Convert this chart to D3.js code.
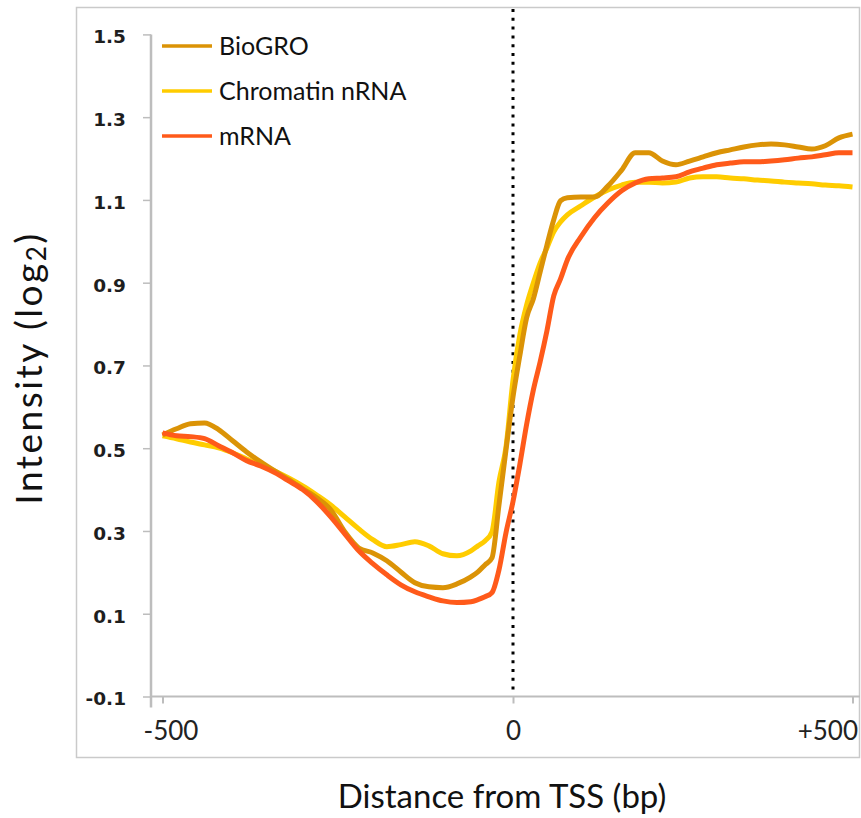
<!DOCTYPE html>
<html>
<head>
<meta charset="utf-8">
<script src="https://cdn.jsdelivr.net/npm/d3@7"></script>
<style>
  body { margin: 0; background: #fff; }
  svg { display: block; }
</style>
</head>
<body>
<svg id="chart" width="861" height="818"></svg>
<script>
// Distance from the TSS (bp) at which each profile is sampled
const positions = [
  -500, -480, -460, -440, -420, -400, -380, -360, -340, -320,
  -300, -280, -260, -240, -220, -200, -180, -160, -140, -120,
  -100, -80, -60, -50, -40, -30, -20, -10, 0, 10,
  20, 30, 40, 50, 60, 70, 80, 100, 120, 140,
  160, 180, 200, 220, 240, 260, 280, 300, 320, 340,
  360, 380, 400, 420, 440, 460, 480, 500
];

// Intensity (log2) per profile, aligned with positions
const bioGRO = [
  0.532, 0.547, 0.559, 0.561, 0.545, 0.518, 0.491, 0.467, 0.445, 0.424,
  0.402, 0.380, 0.351, 0.298, 0.259, 0.247, 0.228, 0.201, 0.175, 0.165,
  0.163, 0.172, 0.189, 0.201, 0.218, 0.235, 0.363, 0.496, 0.624, 0.723,
  0.815, 0.861, 0.926, 0.991, 1.052, 1.098, 1.105, 1.107, 1.107, 1.134,
  1.172, 1.214, 1.214, 1.194, 1.185, 1.194, 1.204, 1.214, 1.221, 1.228,
  1.233, 1.235, 1.233, 1.228, 1.223, 1.231, 1.250, 1.259
];

const chromatinNRNA = [
  0.530, 0.523, 0.515, 0.508, 0.501, 0.489, 0.474, 0.460, 0.445, 0.428,
  0.409, 0.387, 0.363, 0.334, 0.305, 0.279, 0.262, 0.267, 0.274, 0.264,
  0.245, 0.240, 0.252, 0.264, 0.276, 0.298, 0.419, 0.503, 0.665, 0.774,
  0.846, 0.900, 0.948, 0.984, 1.023, 1.047, 1.064, 1.086, 1.107, 1.124,
  1.136, 1.143, 1.143, 1.141, 1.143, 1.153, 1.156, 1.156, 1.153, 1.151,
  1.148, 1.146, 1.143, 1.141, 1.139, 1.136, 1.134, 1.131
];

const mRNA = [
  0.537, 0.530, 0.528, 0.523, 0.506, 0.489, 0.470, 0.457, 0.441, 0.421,
  0.400, 0.371, 0.334, 0.293, 0.252, 0.221, 0.194, 0.170, 0.153, 0.141,
  0.131, 0.127, 0.129, 0.134, 0.141, 0.151, 0.206, 0.296, 0.371, 0.460,
  0.557, 0.641, 0.709, 0.784, 0.868, 0.909, 0.955, 1.011, 1.057, 1.093,
  1.122, 1.141, 1.151, 1.153, 1.156, 1.168, 1.177, 1.185, 1.189, 1.192,
  1.192, 1.194, 1.197, 1.201, 1.204, 1.209, 1.214, 1.214
];

const seriesNames = ["BioGRO", "Chromatin nRNA", "mRNA"];
const seriesColors = ["#DB9306", "#FFCC00", "#FF5A1A"];

const yTicks = [-0.1, 0.1, 0.3, 0.5, 0.7, 0.9, 1.1, 1.3, 1.5];
const xTicks = [-500, 0, 500];
const xTickLabels = ["-500", "0", "+500"];

const svg = d3.select("#chart");
const sans = "Lato, 'Open Sans', sans-serif";
const axisGrey = "#bdbdbd";

// outer chart frame
svg.append("rect")
  .attr("x", 76.5).attr("y", 7.5)
  .attr("width", 783).attr("height", 750)
  .attr("fill", "#fff")
  .attr("stroke", "#cacaca").attr("stroke-width", 1.5);

const x = d3.scaleLinear().domain([-500, 0, 500]).range([162.5, 513, 852.5]);
const y = d3.scaleLinear().domain([-0.1, 1.5]).range([696.5, 34.4]);
const axisX = 151;

// y axis
const yAxis = svg.append("g")
  .attr("transform", `translate(${axisX},0)`)
  .call(d3.axisLeft(y).tickValues(yTicks).tickSize(8).tickSizeOuter(0)
    .tickPadding(17).tickFormat(d => d.toFixed(1)));
yAxis.select(".domain").remove();
yAxis.selectAll(".tick line").attr("stroke", axisGrey).attr("stroke-width", 1.5);
yAxis.selectAll(".tick text")
  .attr("font-family", "'DejaVu Sans', sans-serif")
  .attr("font-weight", "bold")
  .attr("font-size", 18.5)
  .attr("fill", "#1e1e1e")
  .attr("dy", "0.45em");
svg.append("line")
  .attr("x1", axisX).attr("x2", axisX)
  .attr("y1", y(1.5)).attr("y2", y(-0.1) + 11)
  .attr("stroke", axisGrey).attr("stroke-width", 2.5);

// x axis
const xAxis = svg.append("g")
  .attr("transform", `translate(0,${y(-0.1)})`)
  .call(d3.axisBottom(x).tickValues(xTicks).tickSize(7).tickSizeOuter(0)
    .tickFormat((d, i) => xTickLabels[i]));
xAxis.select(".domain").remove();
xAxis.selectAll(".tick line").attr("stroke", axisGrey).attr("stroke-width", 2);
xAxis.selectAll(".tick text")
  .attr("font-family", sans)
  .attr("font-size", 26)
  .attr("fill", "#222")
  .attr("y", 43).attr("dy", 0);
// keep the outer labels inside the frame
xAxis.selectAll(".tick text")
  .filter((d, i) => i === 0).attr("dx", 8);
xAxis.selectAll(".tick text")
  .filter((d, i) => i === xTicks.length - 1)
  .attr("text-anchor", "end").attr("dx", 5);
svg.append("line")
  .attr("x1", axisX).attr("x2", 860)
  .attr("y1", y(-0.1)).attr("y2", y(-0.1))
  .attr("stroke", axisGrey).attr("stroke-width", 2);

// TSS marker
svg.append("line")
  .attr("x1", x(0)).attr("x2", x(0))
  .attr("y1", 9).attr("y2", y(-0.1) - 2)
  .attr("stroke", "#000").attr("stroke-width", 3)
  .attr("stroke-dasharray", "3,5.8");

// profile lines
const line = d3.line()
  .x((d, i) => x(positions[i]))
  .y(d => y(d))
  .curve(d3.curveMonotoneX);

const series = [bioGRO, chromatinNRNA, mRNA];
const drawOrder = [1, 0, 2];
drawOrder.forEach(k => {
  svg.append("path")
    .datum(series[k])
    .attr("d", line)
    .attr("fill", "none")
    .attr("stroke", seriesColors[k])
    .attr("stroke-width", 5)
    .attr("stroke-linejoin", "round");
});

// legend
const legend = svg.append("g").attr("transform", "translate(162,46)");
seriesNames.forEach((name, i) => {
  const g = legend.append("g").attr("transform", `translate(0,${i * 45})`);
  g.append("line")
    .attr("x1", 0).attr("x2", 50)
    .attr("stroke", seriesColors[i]).attr("stroke-width", 3.5);
  g.append("text")
    .attr("x", 57).attr("y", 9)
    .attr("font-family", sans).attr("font-size", 25)
    .attr("fill", "#111")
    .text(name);
});

// axis titles
svg.append("text")
  .attr("x", 502).attr("y", 808)
  .attr("text-anchor", "middle")
  .attr("font-family", sans).attr("font-size", 33)
  .attr("fill", "#111")
  .text("Distance from TSS (bp)");

const yTitle = svg.append("text")
  .attr("transform", "translate(42,368) rotate(-90)")
  .attr("text-anchor", "middle")
  .attr("font-family", sans).attr("font-size", 37)
  .attr("letter-spacing", 2.5)
  .attr("fill", "#111");
yTitle.append("tspan").text("Intensity (log");
yTitle.append("tspan").attr("font-size", 26).attr("dy", 4).text("2");
yTitle.append("tspan").attr("dy", -4).text(")");
</script>
</body>
</html>
